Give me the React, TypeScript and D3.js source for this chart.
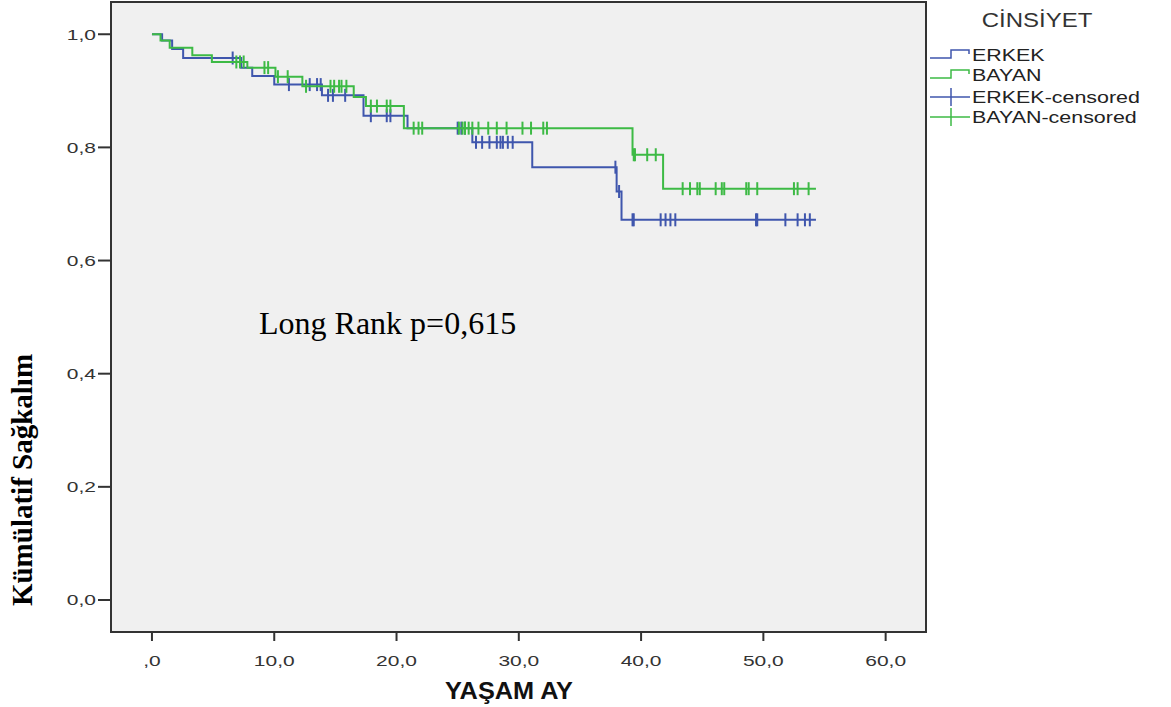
import { useEffect, useRef } from "react";
import * as d3 from "d3";

// Kaplan-Meier steps (time in months, survival after the drop)
const erkekTimes = [0, 0.83, 1.65, 2.55, 7.3, 8.2, 10.0, 13.9, 17.3, 20.9, 26.2, 31.1, 38.0, 38.4, 54.3];
const erkekSurv = [1, 0.989, 0.974, 0.958, 0.941, 0.926, 0.911, 0.892, 0.856, 0.834, 0.809, 0.765, 0.722, 0.672, 0.672];
const erkekCensored = [
  6.6, 11.2, 12.9, 13.5, 13.8, 14.4, 14.8, 15.8, 17.9, 19.2, 19.5, 25.0, 25.3, 25.6,
  26.5, 27.0, 27.6, 28.2, 28.5, 28.7, 29.1, 29.5, 37.9, 38.2, 39.3, 39.4, 41.6, 42.0,
  42.4, 42.8, 49.4, 49.5, 51.8, 52.8, 53.4, 53.8,
];

const bayanTimes = [0, 0.7, 1.45, 3.3, 4.9, 7.8, 10.1, 12.3, 16.5, 17.5, 20.6, 39.3, 41.8, 54.3];
const bayanSurv = [1, 0.989, 0.976, 0.963, 0.951, 0.941, 0.925, 0.908, 0.889, 0.873, 0.834, 0.787, 0.727, 0.727];
const bayanCensored = [
  6.9, 7.2, 7.5, 9.2, 9.5, 10.3, 11.1, 12.6, 14.6, 14.9, 15.3, 15.5, 15.9, 17.9, 18.4,
  19.2, 19.5, 21.4, 21.8, 22.1, 25.1, 25.4, 25.6, 25.9, 26.2, 26.7, 27.5, 28.2, 29.0,
  30.3, 31.0, 32.0, 32.3, 39.4, 39.5, 40.5, 41.2, 43.4, 44.0, 44.6, 44.8, 46.1, 46.6,
  46.8, 48.6, 48.8, 49.5, 52.5, 52.8, 53.7,
];

const xTicks = [0, 10, 20, 30, 40, 50, 60];
const xTickLabels = [",0", "10,0", "20,0", "30,0", "40,0", "50,0", "60,0"];
const yTicks = [0, 0.2, 0.4, 0.6, 0.8, 1.0];
const yTickLabels = ["0,0", "0,2", "0,4", "0,6", "0,8", "1,0"];

const legendTitle = "CİNSİYET";
const legendLabels = ["ERKEK", "BAYAN", "ERKEK-censored", "BAYAN-censored"];

const BLUE = "#3f56ad";
const GREEN = "#3dba45";
const SANS = "'Liberation Sans', Arial, sans-serif";
const SERIF = "'Liberation Serif', 'Times New Roman', serif";

const App = () => {
  const ref = useRef<SVGSVGElement | null>(null);

  useEffect(() => {
    if (!ref.current) return;
    const svg = d3.select(ref.current);
    svg.selectAll("*").remove();

    const plot = { left: 111, right: 926, top: 2, bottom: 632 };

    const x = d3.scaleLinear().domain([-3.35, 63.3]).range([plot.left, plot.right]);
    const y = d3.scaleLinear().domain([-0.0566, 1.057]).range([plot.bottom, plot.top]);

    // SPSS output looks horizontally stretched, so sans labels get a small x scale
    const sansText = (
      g: any,
      tx: number,
      ty: number,
      txt: string,
      size: number,
      anchor: string,
      sx: number,
      fill = "#333"
    ) =>
      g
        .append("text")
        .attr("transform", `translate(${tx},${ty}) scale(${sx},1)`)
        .attr("text-anchor", anchor)
        .style("font-family", SANS)
        .style("font-size", `${size}px`)
        .style("fill", fill)
        .text(txt);

    // plot background + frame
    svg
      .append("rect")
      .attr("x", plot.left)
      .attr("y", plot.top)
      .attr("width", plot.right - plot.left)
      .attr("height", plot.bottom - plot.top)
      .attr("fill", "#f0f0f0")
      .attr("stroke", "#333")
      .attr("stroke-width", 2);

    // Y axis ticks
    const yAxis = svg.append("g");
    yTicks.forEach((v, i) => {
      yAxis
        .append("line")
        .attr("x1", plot.left - 13)
        .attr("x2", plot.left)
        .attr("y1", y(v))
        .attr("y2", y(v))
        .attr("stroke", "#333")
        .attr("stroke-width", 2);
      sansText(yAxis, plot.left - 15, y(v) + 5.5, yTickLabels[i], 15, "end", 1.4);
    });

    // X axis ticks
    const xAxis = svg.append("g");
    xTicks.forEach((v, i) => {
      xAxis
        .append("line")
        .attr("x1", x(v))
        .attr("x2", x(v))
        .attr("y1", plot.bottom)
        .attr("y2", plot.bottom + 9)
        .attr("stroke", "#333")
        .attr("stroke-width", 2);
      sansText(xAxis, x(v), plot.bottom + 34, xTickLabels[i], 15, "middle", 1.4);
    });

    // axis titles
    svg
      .append("text")
      .attr("transform", "translate(509,699) scale(1.1,1)")
      .attr("text-anchor", "middle")
      .style("font-family", SANS)
      .style("font-weight", "bold")
      .style("font-size", "23px")
      .style("fill", "#111")
      .text("YAŞAM AY");

    svg
      .append("text")
      .attr("transform", `translate(32, 480) rotate(-90)`)
      .attr("text-anchor", "middle")
      .style("font-family", SERIF)
      .style("font-weight", "bold")
      .style("font-size", "29px")
      .style("fill", "#000")
      .text("Kümülatif Sağkalım");

    // annotation
    svg
      .append("text")
      .attr("x", 259)
      .attr("y", 334)
      .style("font-family", SERIF)
      .style("font-size", "32px")
      .style("fill", "#000")
      .text("Long Rank p=0,615");

    const drawSeries = (times: number[], surv: number[], cens: number[], color: string) => {
      const pts = times.map((t, i) => [t, surv[i]] as [number, number]);
      const path = d3
        .line<[number, number]>()
        .x((d) => x(d[0]))
        .y((d) => y(d[1]))
        .curve(d3.curveStepAfter);
      svg
        .append("path")
        .attr("d", path(pts))
        .attr("fill", "none")
        .attr("stroke", color)
        .attr("stroke-width", 2);

      const survAt = (t: number) => surv[Math.max(0, d3.bisectRight(times, t) - 1)];
      svg
        .append("g")
        .selectAll("line")
        .data(cens)
        .enter()
        .append("line")
        .attr("x1", (d) => x(d))
        .attr("x2", (d) => x(d))
        .attr("y1", (d) => y(survAt(d)) - 6.5)
        .attr("y2", (d) => y(survAt(d)) + 6.5)
        .attr("stroke", color)
        .attr("stroke-width", 2);
    };

    drawSeries(erkekTimes, erkekSurv, erkekCensored, BLUE);
    drawSeries(bayanTimes, bayanSurv, bayanCensored, GREEN);

    // legend
    const legend = svg.append("g");
    sansText(legend, 1037, 27, legendTitle, 20, "middle", 1.2);

    const colors = [BLUE, GREEN, BLUE, GREEN];
    const rows = [55, 75, 97, 117];
    legendLabels.forEach((lab, i) => {
      const cy = rows[i];
      if (i < 2) {
        legend
          .append("path")
          .attr("d", `M930,${cy + 3}H951V${cy - 5}H969V${cy - 1}`)
          .attr("fill", "none")
          .attr("stroke", colors[i])
          .attr("stroke-width", 1.5);
      } else {
        legend
          .append("line")
          .attr("x1", 930)
          .attr("x2", 970)
          .attr("y1", cy)
          .attr("y2", cy)
          .attr("stroke", colors[i])
          .attr("stroke-width", 1.5);
        legend
          .append("line")
          .attr("x1", 951)
          .attr("x2", 951)
          .attr("y1", cy - 9)
          .attr("y2", cy + 9)
          .attr("stroke", colors[i])
          .attr("stroke-width", 1.5);
      }
      sansText(legend, 972, cy + 6, lab, 16, "start", 1.34, "#222");
    });
  }, []);

  return (
    <svg
      ref={ref}
      width={1171}
      height={707}
      style={{ position: "absolute", left: 0, top: 0, background: "#fff" }}
    />
  );
};

export default App;
